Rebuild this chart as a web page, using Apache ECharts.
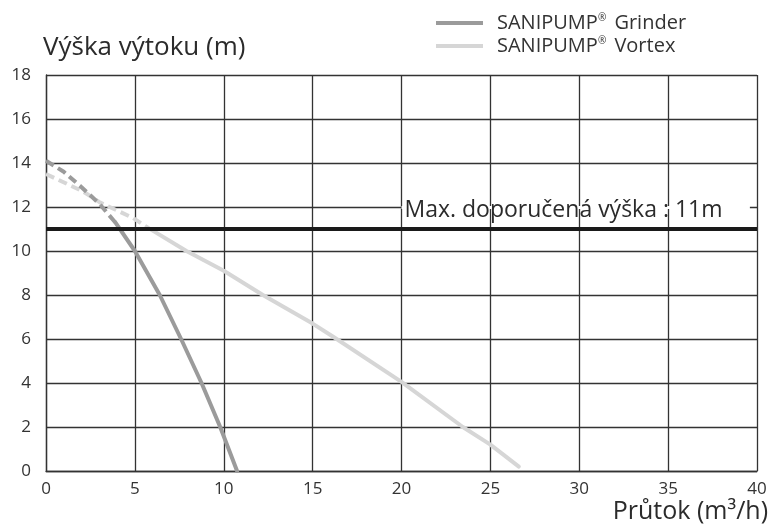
<!DOCTYPE html>
<html>
<head>
<meta charset="utf-8">
<script src="https://cdn.jsdelivr.net/npm/echarts@6/dist/echarts.min.js"></script>
<style>
  html, body { margin: 0; padding: 0; background: #fff; }
  #chart { width: 771px; height: 528px; }
</style>
</head>
<body>
<div id="chart"></div>
<script>
// Pump curves: flow (m3/h) vs. delivery head (m)
const xTicks = [0, 5, 10, 15, 20, 25, 30, 35, 40];
const yTicks = [0, 2, 4, 6, 8, 10, 12, 14, 16, 18];

// Grinder: dashed part above the recommended maximum, solid part below
const grinderDashed = [[0, 14.1], [1, 13.6], [2, 12.9], [3, 12.15], [3.9, 11.3]];
const grinderSolid = [[3.9, 11.3], [5.0, 10], [6.4, 8], [7.6, 6], [8.75, 4], [9.8, 2], [10.75, 0]];

// Vortex
const vortexDashed = [[0, 13.5], [2.1, 12.7], [3.05, 12.2], [4.9, 11.5], [5.75, 11.05]];
const vortexSolid = [[5.75, 11.05], [7.9, 10], [10, 9.1], [12.2, 8], [15, 6.7], [16.2, 6.08], [20, 4.05], [23.45, 2], [25, 1.2], [26.6, 0.2]];

const maxHead = 11;
const maxLabel = 'Max. doporučená výška : 11m';

const grinderName = 'SANIPUMP® Grinder';
const vortexName = 'SANIPUMP® Vortex';

const grinderColor = '#9b9b9b';
const vortexColor = '#d6d6d6';
const font = 'Open Sans';

const chart = echarts.init(document.getElementById('chart'), null, { renderer: 'canvas' });

// legend text with a small raised ® sign
function legendText(name) {
  const parts = name.split('®');
  return parts[0] + '{sup|®}' + parts[1];
}

chart.setOption({
  animation: false,
  backgroundColor: '#fff',
  title: {
    text: 'Výška výtoku (m)',
    left: 38, top: 30,
    textStyle: { fontFamily: font, fontSize: 26, fontWeight: 'normal', color: '#2b2b2b' }
  },
  legend: {
    data: [grinderName, vortexName],
    orient: 'vertical',
    left: 431, top: 8,
    itemWidth: 47, itemHeight: 4,
    itemGap: 3,
    icon: 'rect',
    formatter: legendText,
    textStyle: {
      fontFamily: font, fontSize: 20, color: '#333', padding: [0, 0, 0, 9],
      rich: { sup: { fontFamily: font, fontSize: 10, color: '#333', verticalAlign: 'top', padding: [0, 3, 9, 0] } }
    }
  },
  grid: { left: 46, right: 14, top: 75, bottom: 57, containLabel: false },
  xAxis: {
    type: 'value', min: 0, max: 40, interval: 5,
    name: 'Průtok (m³/h)',
    nameLocation: 'end',
    nameGap: 11,
    nameTextStyle: { fontFamily: font, fontSize: 25, color: '#2b2b2b', align: 'right', verticalAlign: 'top', padding: [28, 0, 0, 0] },
    axisLine: { show: true, lineStyle: { color: '#333', width: 1.3 } },
    axisTick: { show: false },
    axisLabel: {
      fontFamily: font, fontSize: 17, color: '#333', margin: 10,
      formatter: v => xTicks.includes(v) ? String(v) : ''
    },
    splitLine: { show: true, lineStyle: { color: '#333', width: 1.3 } }
  },
  yAxis: {
    type: 'value', min: 0, max: 18, interval: 2,
    axisLine: { show: true, lineStyle: { color: '#333', width: 1.3 } },
    axisTick: { show: false },
    axisLabel: {
      fontFamily: font, fontSize: 17, color: '#333', margin: 15,
      formatter: v => yTicks.includes(v) ? String(v) : ''
    },
    splitLine: { show: true, lineStyle: { color: '#333', width: 1.3 } }
  },
  series: [
    {
      name: 'Max',
      type: 'line',
      data: [[0, maxHead], [40, maxHead]],
      symbol: 'none',
      lineStyle: { color: '#1a1a1a', width: 4 },
      z: 5,
      markLine: {
        silent: true,
        symbol: 'none',
        label: { show: false },
        lineStyle: { color: '#fff', width: 3, type: 'solid' },
        data: [[{ coord: [20.0, 12] }, { coord: [39.6, 12] }]]
      },
      markPoint: {
        symbol: 'circle', symbolSize: 0,
        data: [{ coord: [20.0, maxHead] }],
        label: {
          show: true, position: 'right', offset: [-2, -19],
          formatter: maxLabel,
          fontFamily: font, fontSize: 23, color: '#2b2b2b'
        }
      }
    },
    {
      name: grinderName,
      type: 'line', data: grinderSolid, symbol: 'none', smooth: false,
      lineStyle: { color: grinderColor, width: 4, join: 'round', cap: 'round' }, itemStyle: { color: grinderColor }, z: 4
    },
    {
      name: grinderName + ' dashed',
      type: 'line', data: grinderDashed, symbol: 'none', smooth: false,
      lineStyle: { color: grinderColor, width: 4, type: [9, 5] }, z: 4
    },
    {
      name: vortexName,
      type: 'line', data: vortexSolid, symbol: 'none', smooth: false,
      lineStyle: { color: vortexColor, width: 4, join: 'round', cap: 'round' }, itemStyle: { color: vortexColor }, z: 3
    },
    {
      name: vortexName + ' dashed',
      type: 'line', data: vortexDashed, symbol: 'none', smooth: false,
      lineStyle: { color: vortexColor, width: 4, type: [9, 5] }, z: 3
    }
  ]
});
</script>
</body>
</html>
